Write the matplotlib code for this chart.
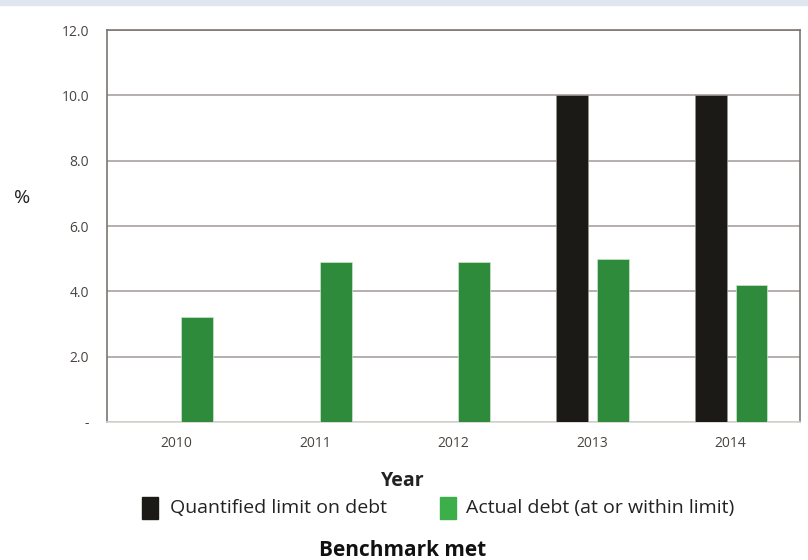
import numpy as np
import matplotlib
matplotlib.use('Agg')
import matplotlib.pyplot as plt
from matplotlib.patches import Rectangle

plt.rcParams['font.family'] = ['Open Sans', 'DejaVu Sans']

# data
years = ['2010', '2011', '2012', '2013', '2014']
limit = [0, 0, 0, 10.0, 10.0]
actual = [3.2, 4.9, 4.9, 5.0, 4.2]
yticks = [0, 2, 4, 6, 8, 10, 12]
ytick_labels = ['-', '2.0', '4.0', '6.0', '8.0', '10.0', '12.0']

black = '#1b1a17'
green = '#2e8b3c'
green_leg = '#3cae4a'
grid_c = '#a8a29e'
text_c = '#4a4440'

fig = plt.figure(figsize=(8.08, 5.6), dpi=100)
# thin band on top
fig.patches.append(Rectangle((0, 0.991), 1, 0.009, transform=fig.transFigure,
                             color='#dfe6f0', zorder=0))

ax = fig.add_axes([107 / 808, 1 - 422 / 560, 693 / 808, 392 / 560])
x = np.arange(len(years))
w = 0.23
ax.bar(x - 0.145, limit, w, color=black, edgecolor='#9a9590', linewidth=0.5, zorder=3)
ax.bar(x + 0.15, actual, w, color=green, edgecolor='#cfe6cf', linewidth=0.5, zorder=3)

ax.set_xlim(-0.5, 4.5)
ax.set_ylim(0, 12)
ax.set_yticks(yticks)
ax.set_yticklabels(ytick_labels)
ax.set_xticks(x)
ax.set_xticklabels(years)
ax.tick_params(length=0, labelsize=10, colors=text_c)
ax.tick_params(axis='x', pad=10)
ax.tick_params(axis='y', pad=13)
ax.yaxis.grid(True, color=grid_c, linewidth=1.2, zorder=1)
for s in ax.spines.values():
    s.set_color('#7a7571')
    s.set_linewidth(1.2)
ax.spines['bottom'].set_color('#d8d4d0')

fig.text(22 / 808, 1 - 198 / 560, '%', fontsize=14, color='#222222',
         ha='center', va='center')
fig.text(403 / 808, 1 - 481 / 560, 'Year', fontsize=14, fontweight='bold',
         color='#222222', ha='center', va='center')

# legend
fig.patches.append(Rectangle((142 / 808, 1 - 519 / 560), 16 / 808, 22 / 560,
                             transform=fig.transFigure, color=black))
fig.text(170 / 808, 1 - 508 / 560, 'Quantified limit on debt', fontsize=14,
         color='#222222', ha='left', va='center')
fig.patches.append(Rectangle((440 / 808, 1 - 519 / 560), 16 / 808, 22 / 560,
                             transform=fig.transFigure, color=green_leg))
fig.text(466 / 808, 1 - 508 / 560, 'Actual debt (at or within limit)', fontsize=14,
         color='#222222', ha='left', va='center')

fig.text(403 / 808, 1 - 551 / 560, 'Benchmark met', fontsize=15, fontweight='bold',
         color='#111111', ha='center', va='center')

fig.savefig('out.png', dpi=100)
